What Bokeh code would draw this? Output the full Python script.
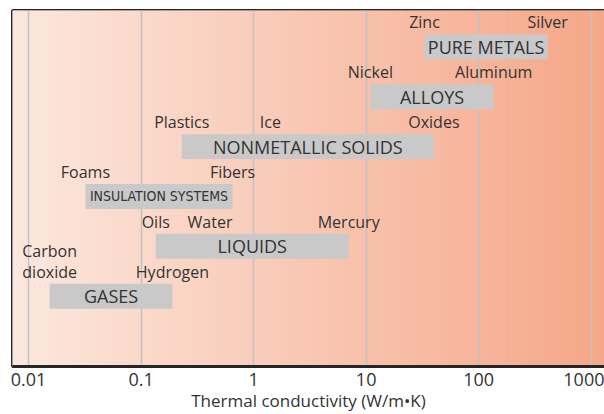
import numpy as np
from bokeh.plotting import figure
from bokeh.models import Range1d, FixedTicker, ColumnDataSource
from bokeh.core.properties import value
from bokeh.embed import file_html
from bokeh.resources import INLINE

# ---- data ----
categories = ["GASES", "LIQUIDS", "INSULATION SYSTEMS", "NONMETALLIC SOLIDS", "ALLOYS", "PURE METALS"]
cat_rows = [0, 1, 2, 3, 4, 5]
k_low = [0.0154, 0.135, 0.032, 0.23, 10.9, 33.0]
k_high = [0.19, 7.0, 0.65, 40.0, 136.0, 410.0]

materials = ["Carbon\ndioxide", "Hydrogen", "Oils", "Water", "Mercury", "Foams", "Fibers",
             "Plastics", "Ice", "Oxides", "Nickel", "Aluminum", "Zinc", "Silver"]
material_k = [0.0154, 0.19, 0.135, 0.41, 7.0, 0.032, 0.65, 0.23, 1.41, 40.0, 10.9, 136.0, 33.0, 410.0]
material_row = [0, 0, 1, 1, 1, 2, 2, 3, 3, 3, 4, 4, 5, 5]

tick_values = [0.01, 0.1, 1, 10, 100, 1000]
tick_labels = ["0.01", "0.1", "1", "10", "100", "1000"]

x_start, x_end = 0.0072, 1313.0
y_start, y_end = -1.41, 5.73

TEXT = "#333333"
FONT = "Open Sans"
NARROW = "'Liberation Sans Narrow', 'DejaVu Sans Condensed', 'Noto Sans Condensed', sans-serif"

p = figure(width=604, height=414, x_axis_type="log",
           x_range=Range1d(x_start, x_end), y_range=Range1d(y_start, y_end),
           output_backend="svg", toolbar_location=None, y_axis_location=None,
           min_border_left=12, min_border_right=0, min_border_top=10, min_border_bottom=0)

# gradient background (decoration)
n = 160
edges = np.logspace(np.log10(x_start), np.log10(x_end), n + 1)
c0 = np.array([252, 232, 222])
c1 = np.array([246, 167, 137])
cols = []
for i in range(n):
    t = (i + 0.5) / n
    c = (c0 + (c1 - c0) * t).astype(int)
    cols.append("#%02x%02x%02x" % tuple(c))
p.quad(left=edges[:-1], right=edges[1:], bottom=y_start, top=y_end,
       fill_color=cols, line_color=cols, line_width=1, level="image")

# bars
mid = list(np.sqrt(np.array(k_low) * np.array(k_high)))
bars = ColumnDataSource(dict(y=cat_rows, left=k_low, right=k_high, name=categories, mid=mid))
p.hbar(y="y", left="left", right="right", height=0.5, source=bars,
       fill_color="#C9C9C9", line_color=None)
wide = [i for i, c in enumerate(categories) if c != "INSULATION SYSTEMS"]
narrow = [i for i, c in enumerate(categories) if c == "INSULATION SYSTEMS"]
p.text(x=[mid[i] for i in wide], y=[cat_rows[i] for i in wide], text=[categories[i] for i in wide],
       text_font=value(FONT), text_font_size="18px", text_color=TEXT,
       text_align="center", text_baseline="middle")
p.text(x=[mid[i] for i in narrow], y=[cat_rows[i] for i in narrow], text=[categories[i] for i in narrow],
       text_font=value(NARROW), text_font_size="14px", text_color=TEXT,
       text_align="center", text_baseline="middle")

# material labels
mat = ColumnDataSource(dict(x=material_k, y=[r + 0.27 for r in material_row], name=materials))
p.text(x="x", y="y", text="name", source=mat, text_font=value(FONT),
       text_font_size="16px", text_color=TEXT, text_align="center", text_baseline="bottom",
       text_line_height=0.96)

# grid & axes
p.ygrid.grid_line_color = None
p.xgrid.ticker = FixedTicker(ticks=tick_values)
p.xgrid.grid_line_color = "#C0C3C6"
p.xgrid.grid_line_width = 1.5
p.xaxis.ticker = FixedTicker(ticks=tick_values)
p.xaxis.major_label_overrides = {v: l for v, l in zip(tick_values, tick_labels)}
p.xaxis.axis_line_width = 3
p.xaxis.axis_line_color = "#262626"
p.xaxis.major_tick_line_color = None
p.xaxis.minor_tick_line_color = None
p.xaxis.major_label_standoff = 0
p.xaxis.major_label_text_font = FONT
p.xaxis.major_label_text_font_size = "18px"
p.xaxis.major_label_text_color = TEXT
p.xaxis.axis_label = "Thermal conductivity (W/m\u2022K)"
p.xaxis.axis_label_text_font = FONT
p.xaxis.axis_label_text_font_size = "17px"
p.xaxis.axis_label_text_font_style = "normal"
p.xaxis.axis_label_text_color = TEXT
p.xaxis.axis_label_standoff = 0

p.outline_line_color = "#262626"
p.outline_line_width = 3
p.background_fill_color = None

open("out.html", "w").write(file_html(p, INLINE))
